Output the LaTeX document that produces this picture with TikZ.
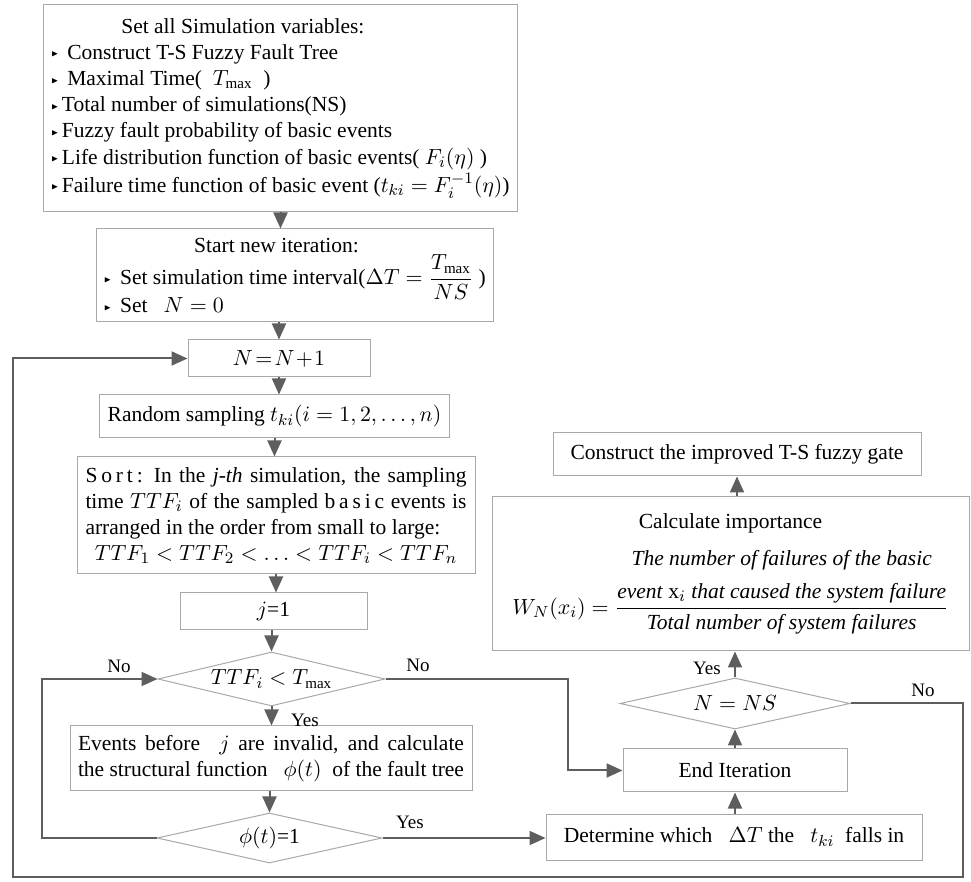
\documentclass[tikz,border=0pt]{standalone}
\usepackage{amsmath}
\usepackage{amssymb}
\usepackage{graphicx}
\usepackage{fontspec}
\setmainfont{Liberation Serif}
\usetikzlibrary{shapes.geometric, arrows.meta, positioning, calc}

\definecolor{boxgray}{HTML}{A8A8A8}
\definecolor{linegray}{HTML}{5E5E5E}
\newcommand{\mainsize}{\fontsize{10.75}{13.1}\selectfont}
\newcommand{\tagsize}{\fontsize{9.5}{11}\selectfont}
\newcommand{\pointer}{\raisebox{0.25ex}{\scalebox{0.42}{$\blacktriangleright$}}\,}
\newcommand{\spaced}[1]{{\addfontfeatures{LetterSpace=18}#1}}

\tikzset{
  box/.style={draw=boxgray, line width=0.5pt, inner xsep=4pt, inner ysep=2pt, font=\mainsize},
  decision/.style={diamond, draw=boxgray, line width=0.5pt, inner sep=0pt, aspect=4, font=\mainsize},
  flow/.style={draw=linegray, line width=1pt, -{Triangle[length=8pt,width=7pt]}},
  tag/.style={font=\tagsize, inner sep=1pt},
}

\begin{document}
\begin{tikzpicture}[x=0.5pt, y=-0.5pt]
    \useasboundingbox (0,0) rectangle (971,882);

    % left column
    \node[box, minimum width=232.5pt, minimum height=103.5pt, align=left] (setup) at (280.5,108.5)
        {\hspace*{35pt}Set all Simulation variables:\\
         \pointer\ Construct T-S Fuzzy Fault Tree\\
         \pointer\ Maximal Time(\enskip $T_{\max}$\enskip)\\
         \pointer Total number of simulations(NS)\\
         \pointer Fuzzy fault probability of basic events\\
         \pointer Life distribution function of basic events( $F_i(\eta)$ )\\[1pt]
         \pointer Failure time function of basic event ($t_{ki}=F_i^{-1}(\eta)$)};
    \node[box, minimum width=187pt, minimum height=46.5pt, align=left] (iter) at (295,275.5)
        {\hspace*{45pt}Start new iteration:\\
         \pointer\ Set simulation time interval($\Delta T=\dfrac{T_{\max}}{NS}$ )\\[-2pt]
         \pointer\ Set \enskip $N=0$};
    \node[box, minimum width=91pt, minimum height=18.5pt] (nbox) at (279,358.5) {$N\!=\!N\!+\!1$};
    \node[box, minimum width=155.5pt, minimum height=21.5pt] (rand) at (274.5,416.5)
        {Random sampling $t_{ki}(i=1,2,\ldots,n)$};
    \node[box, minimum width=199pt, minimum height=58.5pt, text width=190.5pt, align=justify] (sort) at (276,515.5)
        {\spaced{Sort:} In the \textit{j-th} simulation, the sampling time $TTF_i$ of the sampled \spaced{basic} events is arranged in the order from small to large:\par
         {\centering $TTF_1<TTF_2<\ldots<TTF_i<TTF_n$\par}};
    \node[box, minimum width=93.5pt, minimum height=18.5pt] (jone) at (273.5,611.5) {$j$=1};
    \node[decision, minimum width=113.5pt, minimum height=27pt] (cmp) at (271.5,679) {$TTF_i<T_{\max}$};
    \node[box, minimum width=201pt, minimum height=32.5pt, text width=193pt, align=justify] (events) at (271,758.5)
        {\parfillskip=0pt Events before \enskip $j$ are invalid, and calculate\linebreak
         the structural function \enskip$\phi(t)$\enskip of the fault tree};
    \node[decision, minimum width=112.5pt, minimum height=25pt] (phi) at (269.5,838) {$\phi(t)$=1};

    % right column
    \node[box, minimum width=184pt, minimum height=21.5pt] (build) at (737,454.5)
        {Construct the improved T-S fuzzy gate};
    \node[box, minimum width=238.5pt, minimum height=77pt, align=center] (calc) at (730.5,574)
        {Calculate importance\\[6pt]
         $W_N(x_i)=\dfrac{\begin{tabular}{@{}c@{}}\itshape The number of failures of the basic\\[3pt]
            \itshape event\/ \upshape x$_i$ \itshape that caused the system failure\end{tabular}}
            {\text{\itshape Total number of system failures}}$};
    \node[decision, minimum width=115pt, minimum height=25.5pt] (stop) at (735,703.5) {$N=NS$};
    \node[box, minimum width=112pt, minimum height=21.5pt] (finish) at (735,770.5) {End Iteration};
    \node[box, minimum width=188pt, minimum height=23pt] (locate) at (734,837)
        {Determine which \enskip$\Delta T$ the \enskip$t_{ki}$\enskip falls in};

    % main flow
    \draw[flow] (setup.south) -- (setup.south |- iter.north);
    \draw[flow] (nbox.north |- iter.south) -- (nbox.north);
    \draw[flow] (nbox.south) -- (nbox.south |- rand.north);
    \draw[flow] (rand.south) -- (rand.south |- sort.north);
    \draw[flow] (sort.south) -- (sort.south |- jone.north);
    \draw[flow] (cmp.north |- jone.south) -- (cmp.north);
    \draw[flow] (cmp.south) -- (cmp.south |- events.north);
    \draw[flow] (phi.north |- events.south) -- (phi.north);
    \draw[flow] (phi.east) -- (phi.east -| locate.west);
    \draw[flow] (finish.south |- locate.north) -- (finish.south);
    \draw[flow] (finish.north) -- (stop.south);
    \draw[flow] (stop.north) -- (stop.north |- calc.south);
    \draw[flow] (build.south |- calc.north) -- (build.south);

    % loops
    \coordinate (loopR) at (963,877);
    \coordinate (loopL) at (13,877);
    \draw[flow] (phi.west) -- ++(-115,0) |- (cmp.west);
    \draw[flow] (cmp.east) -- ++(182,0) |- (finish.west);
    \draw[flow] (stop.east) -| (loopR) -- (loopL) |- (nbox.west);

    % labels
    \node[tag] at (119,666) {No};
    \node[tag] at (418,665) {No};
    \node[tag] at (305,720) {Yes};
    \node[tag] at (410,822) {Yes};
    \node[tag] at (707,668) {Yes};
    \node[tag] at (923,690) {No};
\end{tikzpicture}
\end{document}
